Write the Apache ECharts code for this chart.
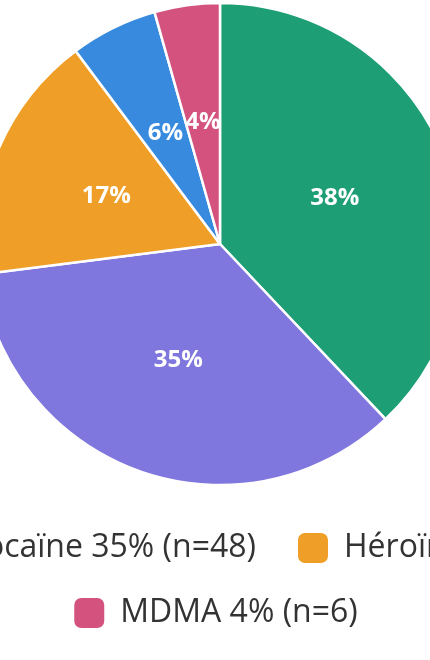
<!DOCTYPE html>
<html>
<head>
<meta charset="utf-8">
<style>
  html, body { margin: 0; padding: 0; background: #fff; }
  #myChart { width: 430px; height: 660px; }
</style>
<script src="https://cdn.jsdelivr.net/npm/echarts@6/dist/echarts.min.js"></script>
</head>
<body>
<div id="myChart"></div>
<script>
// données
let categories = ['Cannabis', 'Cocaïne', 'Héroïne', 'Autres', 'MDMA'];
let counts = [52, 48, 23, 8, 6];
let colors = ['#1D9E75', '#7F77DD', '#EF9F27', '#378ADD', '#D4537E'];

let total = counts.reduce((a, b) => a + b, 0);
let pct = v => Math.round(v / total * 100);

let legendFont = 32;
let fontFamily = '"Open Sans", "Noto Sans", sans-serif';
let boxSize = 32;
let itemGap = 40;

let legendText = i => categories[i] + ' ' + pct(counts[i]) + '% (n=' + counts[i] + ')';

// largeur d'un élément de légende (carré + espace + texte)
let ctx = document.createElement('canvas').getContext('2d');
ctx.font = legendFont + 'px ' + fontFamily;
let measure = i => boxSize + 15 + ctx.measureText(legendText(i)).width;

// première ligne : placée pour que le carré Héroïne tombe vers x=297
let row1Left = 289 - itemGap - measure(1) - itemGap - measure(0);

let myChart = echarts.init(document.getElementById('myChart'));

let legendBase = {
    orient: 'horizontal',
    itemWidth: boxSize,
    itemHeight: boxSize,
    itemGap: itemGap,
    icon: 'roundRect',
    width: 3000,
    formatter: name => legendText(categories.indexOf(name)),
    textStyle: {
        fontSize: legendFont,
        fontFamily: fontFamily,
        color: '#333',
        padding: [0, 0, 0, 10]
    }
};

let option = {
    animation: false,
    color: colors,
    legend: [
        {...legendBase, data: categories.slice(0, 4), left: row1Left, top: 526},
        {...legendBase, data: categories.slice(4), left: 'center', top: 591, width: null}
    ],
    series: [{
        type: 'pie',
        center: [220, 244],
        radius: 241,
        startAngle: 90,
        clockwise: true,
        itemStyle: {borderColor: '#fff', borderWidth: 2.5},
        label: {
            show: true,
            position: 'inside',
            formatter: p => Math.round(p.percent) + '%',
            color: '#fff',
            fontSize: 24,
            fontWeight: 'bold',
            fontFamily: fontFamily
        },
        labelLine: {show: false},
        emphasis: {disabled: true},
        data: categories.map((c, i) => ({name: c, value: counts[i]}))
    }]
};

myChart.setOption(option);
</script>
</body>
</html>
